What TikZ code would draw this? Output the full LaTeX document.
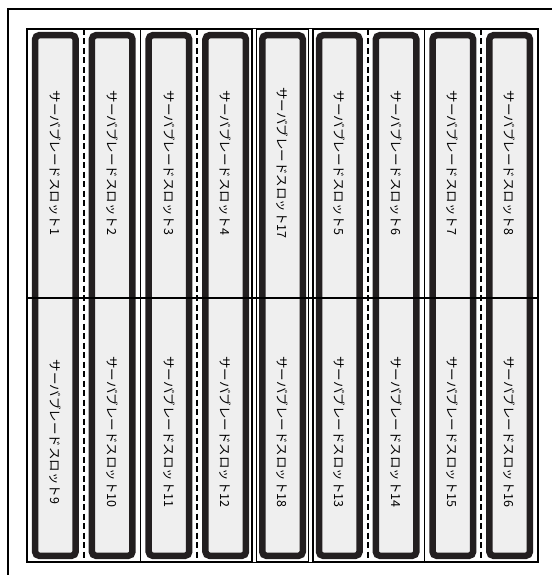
\documentclass[tikz,border=0pt]{standalone}
\usepackage{fontspec}
\newfontfamily\jpfont{Noto Sans CJK JP}
\definecolor{slotedge}{HTML}{231F20}
\definecolor{slotfill}{HTML}{EFEFEF}
\begin{document}
\begin{tikzpicture}[x=1pt,y=-1pt,
  slot/.style={draw=slotedge,line width=6.5pt,fill=slotfill,rounded corners=4pt,
    minimum width=40.5pt,minimum height=520.5pt,inner sep=0pt},
  slotlabel/.style={font=\jpfont\fontsize{12.5}{14}\selectfont,rotate=-90,inner sep=0pt},
  solidsep/.style={line width=1.6pt},
  doublesep/.style={line width=1.2pt,double=white,double distance=3pt},
  dashsep/.style={line width=1.8pt,dash pattern=on 6pt off 3.5pt}]
\useasboundingbox (0,0) rectangle (552,575);
% frame
\draw[line width=2pt] (8,575) -- (8,9) -- (552,9);
\node[draw,line width=2pt,minimum width=511pt,minimum height=533pt,inner sep=0pt] (chassis) at (282.5,295.5) {};
% slots
\foreach \i/\t/\b in {0/1/9,1/2/10,2/3/11,3/4/12,4/17/18,5/5/13,6/6/14,7/7/15,8/8/16} {
  \pgfmathsetmacro\cx{27+56.78*(\i+0.5)}
  \node[slot] (slot\i) at (\cx,295.5) {};
  \node[slotlabel] (top\i) at (\cx,163) {サーバブレードスロット\t};
  \node[slotlabel] (bot\i) at (\cx,432) {サーバブレードスロット\b};
}
% column separators
\foreach \k in {1,3,6,8} {
  \pgfmathsetmacro\sx{27+56.78*\k}
  \draw[dashsep] (\sx,29) -- (\sx,562);
}
\foreach \k in {2,7} {
  \pgfmathsetmacro\sx{27+56.78*\k}
  \draw[solidsep] (\sx,29) -- (\sx,562);
}
\foreach \k in {4,5} {
  \pgfmathsetmacro\sx{27+56.78*\k}
  \draw[doublesep] (\sx,29) -- (\sx,562);
}
\draw[line width=1.5pt] (chassis.west |- 0,298) -- (chassis.east |- 0,298);
\end{tikzpicture}
\end{document}
